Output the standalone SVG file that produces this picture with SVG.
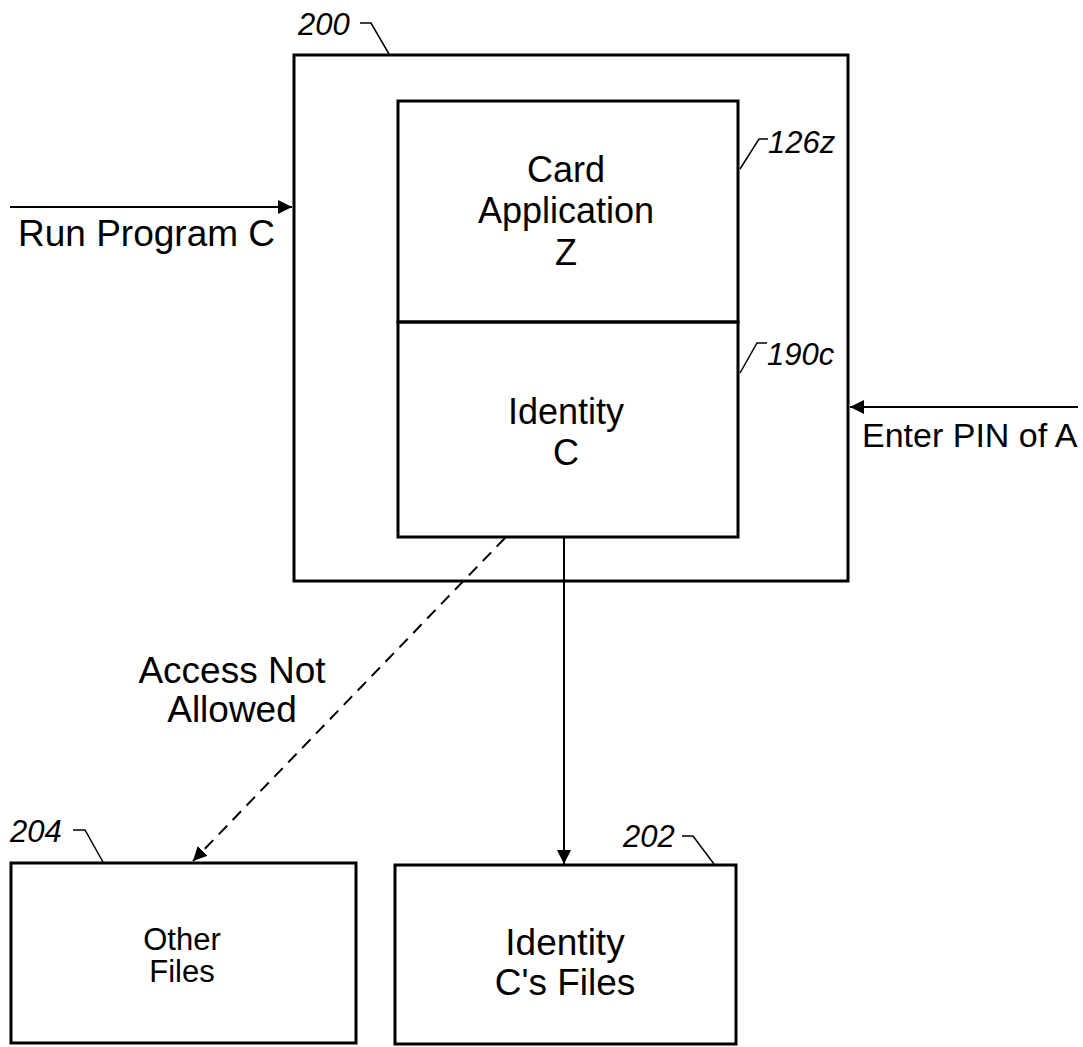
<svg xmlns="http://www.w3.org/2000/svg" width="1083" height="1047" viewBox="0 0 1083 1047">
<style>
.box{fill:none;stroke:#000;stroke-width:3}
.t{font-family:"Liberation Sans",Arial,sans-serif;font-size:36px;fill:#000;text-anchor:middle}
.tl{font-family:"Liberation Sans",Arial,sans-serif;font-size:36px;fill:#000}
.ref{font-family:"Liberation Sans",Arial,sans-serif;font-size:31px;font-style:italic;fill:#000}
.lead{fill:none;stroke:#000;stroke-width:1.5}
.conn{fill:none;stroke:#000;stroke-width:2}
</style>
<defs>
<marker id="ah" viewBox="0 0 10 10" refX="10" refY="5" markerWidth="14" markerHeight="14" markerUnits="userSpaceOnUse" orient="auto">
<path d="M0,0 L10,5 L0,10 z" fill="#000"/>
</marker>
</defs>
<rect width="1083" height="1047" fill="#fff"/>
<g id="node-200">
<rect class="box" x="294" y="55" width="554" height="526"/>
<text class="ref" x="298" y="35">200</text>
<path class="lead" d="M360,23 L371,23 L389,54"/>
</g>
<g id="node-126z">
<rect class="box" x="398" y="101" width="340" height="221"/>
<text class="t" x="566" y="182">Card</text>
<text class="t" x="566" y="223">Application</text>
<text class="t" x="566" y="265">Z</text>
<text class="ref" x="768" y="153">126z</text>
<path class="lead" d="M740,169 L759,139 L768,139"/>
</g>
<g id="node-190c">
<rect class="box" x="398" y="322" width="340" height="215"/>
<text class="t" x="566" y="424">Identity</text>
<text class="t" x="566" y="465">C</text>
<text class="ref" x="767" y="365">190c</text>
<path class="lead" d="M740,373 L757,343 L767,343"/>
</g>
<g id="node-204">
<rect class="box" x="11" y="863" width="345" height="180"/>
<text class="t" x="182" y="950" style="font-size:31px">Other</text>
<text class="t" x="182" y="982" style="font-size:31px">Files</text>
<text class="ref" x="10" y="842">204</text>
<path class="lead" d="M73,830 L85,830 L103,862"/>
</g>
<g id="node-202">
<rect class="box" x="395" y="865" width="341" height="179"/>
<text class="t" x="565" y="955" style="font-size:37px">Identity</text>
<text class="t" x="565" y="995" style="font-size:37px">C's Files</text>
<text class="ref" x="623" y="847">202</text>
<path class="lead" d="M682,836 L693,836 L714,864"/>
</g>
<g id="connectors">
<line class="conn" x1="10" y1="207" x2="292" y2="207" marker-end="url(#ah)"/>
<line class="conn" x1="1078" y1="407" x2="850" y2="407" marker-end="url(#ah)"/>
<line class="conn" x1="564" y1="538" x2="564" y2="864" marker-end="url(#ah)"/>
<line class="conn" x1="505" y1="538" x2="193" y2="861" stroke-dasharray="12,8" marker-end="url(#ah)"/>
<text class="tl" x="18" y="246" style="font-size:37px">Run Program C</text>
<text class="tl" x="862" y="447" style="font-size:34px">Enter PIN of A</text>
<text class="t" x="232" y="683" style="font-size:37px">Access Not</text>
<text class="t" x="232" y="722" style="font-size:37px">Allowed</text>
</g>
</svg>
